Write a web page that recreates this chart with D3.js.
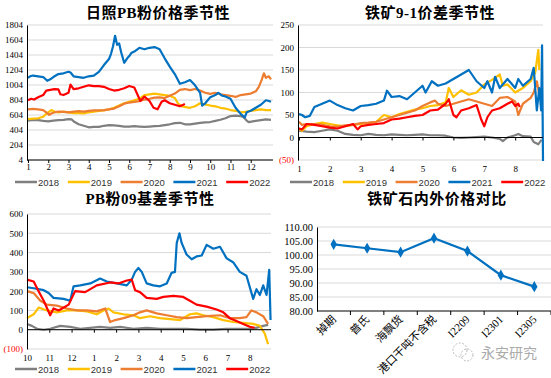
<!DOCTYPE html>
<html><head><meta charset="utf-8">
<script src="https://cdn.jsdelivr.net/npm/d3@7/dist/d3.min.js"></script>
<style>body{margin:0;background:#fff}svg{display:block}</style>
</head><body>
<script>
// ---------- DATA ----------
const years = ["2018","2019","2020","2021","2022"];
// Panel 1: 日照PB粉价格季节性 ([month, price])
const p1_2018 = [[1,530],[1.25,540],[1.5,535],[1.75,525],[2,520],[2.25,530],[2.5,535],[2.75,540],[3,550],[3.15,545],[3.3,510],[3.5,480],[3.75,460],[4,440],[4.25,445],[4.5,445],[4.75,460],[5,470],[5.25,465],[5.5,460],[5.75,450],[6,450],[6.25,455],[6.5,450],[6.75,445],[7,450],[7.25,455],[7.5,460],[7.75,470],[8,480],[8.25,495],[8.5,500],[8.75,480],[9,480],[9.25,490],[9.5,500],[9.75,505],[10,510],[10.25,525],[10.5,540],[10.75,560],[11,590],[11.25,595],[11.5,590],[11.65,575],[11.8,530],[11.9,510],[12.1,520],[12.5,535],[12.75,545],[13,540]];
const p1_2019 = [[1,550],[1.25,555],[1.5,560],[1.75,580],[1.9,620],[2,640],[2.15,670],[2.3,650],[2.5,640],[2.75,650],[3,640],[3.25,630],[3.5,630],[3.75,625],[4,640],[4.25,650],[4.5,660],[4.75,665],[5,680],[5.25,700],[5.5,730],[5.75,760],[6,780],[6.25,800],[6.5,820],[6.75,870],[7,880],[7.25,890],[7.5,880],[7.75,870],[8,860],[8.25,830],[8.4,760],[8.6,720],[8.8,710],[9,700],[9.25,720],[9.5,760],[9.75,745],[10,730],[10.25,720],[10.5,700],[10.75,690],[11,670],[11.25,660],[11.5,640],[11.75,645],[12,660],[12.25,670],[12.5,680],[12.75,670],[13,670]];
const p1_2020 = [[1,680],[1.25,685],[1.5,680],[1.75,670],[1.9,640],[2.05,605],[2.2,630],[2.5,650],[2.75,645],[3,640],[3.25,650],[3.5,655],[3.75,650],[4,660],[4.25,665],[4.5,665],[4.75,670],[5,680],[5.25,690],[5.5,720],[5.75,755],[6,770],[6.25,780],[6.5,790],[6.75,810],[7,820],[7.25,835],[7.5,840],[7.75,830],[8,860],[8.25,890],[8.5,940],[8.75,950],[9,935],[9.25,950],[9.5,930],[9.75,900],[10,885],[10.25,900],[10.5,880],[10.75,870],[11,860],[11.25,845],[11.5,870],[11.75,880],[12,890],[12.25,920],[12.4,980],[12.55,1080],[12.65,1160],[12.75,1100],[12.9,1120],[13,1080]];
const p1_2021 = [[1,1100],[1.1,1120],[1.25,1130],[1.5,1120],[1.75,1110],[1.95,1060],[2.1,1080],[2.25,1110],[2.5,1150],[2.75,1160],[3,1180],[3.1,1170],[3.25,1120],[3.5,1110],[3.75,1100],[4,1120],[4.25,1130],[4.5,1180],[4.75,1270],[5,1350],[5.1,1420],[5.2,1520],[5.3,1660],[5.4,1540],[5.5,1560],[5.6,1440],[5.75,1300],[5.9,1360],[6,1390],[6.1,1430],[6.25,1450],[6.5,1500],[6.75,1480],[7,1500],[7.25,1510],[7.5,1480],[7.75,1360],[8,1250],[8.25,1150],[8.5,1020],[8.75,1040],[9,1070],[9.25,1000],[9.5,900],[9.6,730],[9.75,760],[10,840],[10.25,870],[10.4,900],[10.6,860],[10.75,850],[11,820],[11.25,700],[11.5,620],[11.7,570],[11.8,640],[12,660],[12.25,700],[12.5,740],[12.75,800],[12.9,790],[13,780]];
const p1_2022 = [[1,800],[1.15,820],[1.3,810],[1.5,840],[1.75,870],[1.9,930],[2.1,940],[2.3,950],[2.5,945],[2.6,880],[2.75,870],[3,900],[3.1,1010],[3.25,950],[3.5,960],[3.75,980],[4,1000],[4.25,990],[4.5,990],[4.75,980],[5,950],[5.25,930],[5.5,940],[5.75,960],[6,990],[6.25,970],[6.4,880],[6.55,790],[6.75,850],[7,790],[7.2,700],[7.4,680],[7.6,780],[7.75,800],[8,760],[8.25,740],[8.5,720],[8.75,750]];
const p1YTicks = [4,204,404,604,804,1004,1204,1404,1604,1804];
const p1XLabels = ["1","2","3","4","5","6","7","8","9","10","11","12"];

// Panel 2: 铁矿9-1价差季节性 ([month, spread])
const p2_2018 = [[1,15],[1.25,13],[1.5,12],[1.75,15],[2,18],[2.25,15],[2.5,8],[2.75,6],[3,5],[3.25,8],[3.5,6],[3.75,5],[4,7],[4.25,6],[4.5,5],[4.75,6],[5,7],[5.25,5],[5.5,5],[5.75,4],[6,0],[6.25,-1],[6.5,0],[6.75,1],[7,2],[7.25,0],[7.5,-3],[7.6,-8],[7.75,0],[8,5],[8.1,8],[8.25,3],[8.5,2],[8.6,-10],[8.75,-15],[8.85,-5]];
const p2_2019 = [[1,20],[1.1,15],[1.25,25],[1.5,30],[1.75,33],[2,30],[2.25,27],[2.5,25],[2.75,28],[3,30],[3.25,32],[3.5,35],[3.75,50],[4,45],[4.25,52],[4.5,57],[4.75,62],[5,65],[5.25,70],[5.5,72],[5.75,78],[5.85,110],[6,90],[6.25,105],[6.5,95],[6.75,100],[7,118],[7.25,128],[7.5,140],[7.6,115],[7.75,118],[8,100],[8.25,110],[8.5,125],[8.65,145],[8.75,195],[8.78,150]];
const p2_2020 = [[1,35],[1.1,28],[1.25,30],[1.5,30],[1.75,28],[2,25],[2.25,24],[2.5,27],[2.75,28],[3,32],[3.25,33],[3.5,35],[3.75,40],[4,45],[4.25,50],[4.5,55],[4.75,60],[5,70],[5.25,78],[5.4,82],[5.5,75],[5.75,70],[6,75],[6.25,80],[6.5,85],[6.75,80],[7,75],[7.25,70],[7.5,88],[7.75,90],[8,80],[8.1,50],[8.25,75],[8.5,88],[8.6,100],[8.7,125],[8.8,90],[8.85,85]];
const p2_2021 = [[1,52],[1.1,50],[1.2,45],[1.35,48],[1.5,68],[1.75,75],[2,82],[2.25,72],[2.5,65],[2.75,60],[3,70],[3.25,72],[3.5,75],[3.75,82],[3.85,104],[4,90],[4.25,92],[4.5,85],[4.75,100],[5,115],[5.1,100],[5.3,125],[5.5,115],[5.75,120],[6,130],[6.25,140],[6.5,150],[6.75,125],[7,110],[7.1,125],[7.25,100],[7.35,135],[7.5,110],[7.75,130],[8,110],[8.1,130],[8.25,115],[8.5,130],[8.6,155],[8.7,60],[8.78,110],[8.84,60],[8.87,205],[8.9,-52]];
const p2_2022 = [[1,20],[1.1,18],[1.25,30],[1.5,28],[1.75,25],[2,22],[2.25,20],[2.5,25],[2.75,30],[2.9,18],[3,25],[3.25,28],[3.5,30],[3.75,32],[4,40],[4.25,42],[4.5,45],[4.75,48],[5,50],[5.25,60],[5.5,62],[5.75,75],[5.85,85],[6,50],[6.1,45],[6.25,60],[6.5,65],[6.75,72],[6.9,40],[7,25],[7.1,45],[7.25,60],[7.5,65],[7.75,75],[7.9,80],[8,70],[8.1,75],[8.15,68]];
const p2YTicks = [-50,0,50,100,150,200,250];
const p2XLabels = ["1","2","3","4","5","6","7","8"];

// Panel 3: PB粉09基差季节性 ([month index from Oct, basis])
const p3_2018 = [[0,30],[0.22,20],[0.45,5],[0.75,0],[1.04,5],[1.49,20],[1.94,15],[2.39,5],[2.84,10],[3.28,15],[3.73,10],[4.18,15],[4.78,5],[5.37,10],[5.97,5],[6.57,5],[7.16,5],[7.76,0],[8.36,0],[8.96,5],[9.55,5],[10.15,5],[10.6,20],[10.82,25]];
const p3_2019 = [[0,60],[0.3,80],[0.52,115],[0.9,100],[1.34,90],[1.79,100],[2.24,100],[2.69,95],[3.13,80],[3.43,100],[3.66,110],[3.88,90],[4.33,80],[4.78,75],[5.07,60],[5.52,70],[5.97,60],[6.42,55],[6.87,50],[7.31,80],[7.61,85],[7.91,75],[8.36,65],[8.81,50],[9.25,40],[9.7,35],[10.15,30],[10.45,20],[10.67,-20],[10.82,-75]];
const p3_2020 = [[0,200],[0.3,190],[0.6,150],[0.9,130],[1.34,125],[1.79,110],[2.24,100],[2.69,100],[3.13,95],[3.51,110],[3.73,40],[3.96,50],[4.33,60],[4.78,75],[5.07,90],[5.37,100],[5.82,85],[6.27,75],[6.72,65],[7.16,60],[7.61,65],[8.06,70],[8.66,75],[9.1,60],[9.55,60],[9.85,65],[10.07,100],[10.3,90],[10.6,70],[10.82,30]];
const p3_2021 = [[0,220],[0.3,215],[0.75,205],[0.97,190],[1.19,165],[1.64,160],[1.94,150],[2.09,225],[2.39,230],[2.84,240],[3.28,265],[3.58,250],[4.03,240],[4.48,230],[4.7,260],[4.85,300],[5.0,320],[5.15,300],[5.37,240],[5.67,230],[5.97,225],[6.27,240],[6.49,295],[6.64,300],[6.72,450],[6.84,500],[6.94,450],[7.16,390],[7.39,365],[7.61,380],[7.84,385],[8.06,440],[8.36,420],[8.66,430],[8.81,400],[8.96,370],[9.25,350],[9.55,300],[9.85,280],[10.15,160],[10.3,210],[10.45,180],[10.6,230],[10.75,180],[10.87,310],[10.93,50]];
const p3_2022 = [[0,260],[0.3,250],[0.52,200],[0.75,150],[1.04,75],[1.19,110],[1.42,100],[1.87,130],[2.16,200],[2.61,195],[3.13,230],[3.73,245],[4.1,240],[4.48,255],[4.7,260],[4.85,205],[5.07,195],[5.37,165],[5.82,160],[6.12,170],[6.57,175],[7.01,170],[7.31,150],[7.61,130],[8.06,120],[8.51,105],[8.81,90],[9.1,60],[9.4,45],[9.7,30],[10.0,15],[10.22,10]];
const p3YTicks = [-100,0,100,200,300,400,500,600];
const p3XLabels = ["10","11","12","1","2","3","4","5","6","7","8"];

// Panel 4: 铁矿石内外价格对比
const p4Categories = ["掉期","普氏","海飘货","港口干吨不含税","I2209","I2301","I2305"];
const p4Values = [103.8,102.4,101.0,106.0,101.4,92.8,88.7];
const p4YTicks = [80,85,90,95,100,105,110];

// ---------- STYLE ----------
const colors = {"2018":"#7f7f7f","2019":"#ffc000","2020":"#ed7d31","2021":"#0070c0","2022":"#ff0000"};
const serif = "'Liberation Serif','Times New Roman',serif";
const sans = "'Liberation Sans',Arial,sans-serif";
const titleFont = "'Liberation Serif','Noto Sans CJK SC',serif";
const cjk = "'Liberation Serif','Noto Sans CJK SC',sans-serif";

const svg = d3.select("body").append("svg").attr("width",551).attr("height",378);
svg.append("rect").attr("width",551).attr("height",378).attr("fill","#fff");

function title(txt, cx, y){
  svg.append("text").attr("x",cx).attr("y",y).attr("text-anchor","middle")
    .attr("font-family",titleFont).attr("font-size",15).attr("font-weight",600)
    .attr("letter-spacing",0.5).attr("fill","#000").text(txt);
}

function seasonal(o){
  const g = svg.append("g");
  const x = d3.scaleLinear().domain(o.xDomain).range(o.xRange);
  const y = d3.scaleLinear().domain(o.yDomain).range(o.yRange);
  g.selectAll("line.grid").data(o.yTicks).join("line").attr("class","grid")
    .attr("x1",o.xRange[0]).attr("x2",o.xRange[1]).attr("y1",d=>y(d)).attr("y2",d=>y(d))
    .attr("stroke","#d9d9d9").attr("stroke-width",1);
  // lines
  const line = d3.line().x(d=>x(d[0])).y(d=>y(d[1]));
  o.series.forEach((s,i)=>{
    g.append("path").datum(s).attr("d",line).attr("fill","none")
      .attr("stroke",colors[years[i]]).attr("stroke-width",2.2).attr("stroke-linejoin","round");
  });
  // x axis
  const xa = d3.axisBottom(x).tickValues(o.xTickVals).tickSize(3).tickSizeOuter(0)
    .tickFormat((d,i)=>o.xLabels[i]);
  const xg = g.append("g").attr("transform",`translate(0,${y(o.xAxisAt)})`).call(xa);
  xg.select(".domain").attr("stroke","#000").attr("d",`M${o.xRange[0]},0H${o.xRange[1]}`);
  xg.selectAll(".tick line").attr("stroke","#000");
  xg.selectAll(".tick text").attr("y",o.labelY - y(o.xAxisAt)).attr("dy",0)
    .attr("font-family",serif).attr("font-size",9).attr("fill","#000");
  // y axis
  const ya = d3.axisLeft(y).tickValues(o.yTicks).tickSize(0).tickSizeOuter(0).tickPadding(4)
    .tickFormat(d=> d<0 ? `(${-d})` : d);
  const yg = g.append("g").attr("transform",`translate(${o.xRange[0]},0)`).call(ya);
  yg.select(".domain").attr("stroke","#000");
  yg.selectAll(".tick text").attr("font-family",serif).attr("font-size",9)
    .attr("fill",d=>d<0?"#ff0000":"#000");
  // legend
  years.forEach((yr,i)=>{
    const lx = o.legendX + i*52.8;
    g.append("line").attr("x1",lx).attr("x2",lx+22).attr("y1",o.legendY).attr("y2",o.legendY)
      .attr("stroke",colors[yr]).attr("stroke-width",2.5);
    g.append("text").attr("x",lx+23).attr("y",o.legendY+3.5).attr("font-family",sans)
      .attr("font-size",9.5).attr("fill","#333").text(yr);
  });
}

// Panel 1
title("日照PB粉价格季节性", 158, 18);
seasonal({xDomain:[0.95,13.1], xRange:[27,273], yDomain:[4,1804], yRange:[160,25],
  yTicks:p1YTicks, xTickVals:d3.range(1,13), xLabels:p1XLabels, xAxisAt:4, labelY:170,
  series:[p1_2018,p1_2019,p1_2020,p1_2021,p1_2022], legendX:15, legendY:182});

// Panel 2
title("铁矿9-1价差季节性", 430, 18);
seasonal({xDomain:[0.97,8.9], xRange:[298,543], yDomain:[-50,250], yRange:[160,25],
  yTicks:p2YTicks, xTickVals:d3.range(1,9), xLabels:p2XLabels, xAxisAt:0, labelY:172,
  series:[p2_2018,p2_2019,p2_2020,p2_2021,p2_2022], legendX:290, legendY:182});

// Panel 3
title("PB粉09基差季节性", 150, 204);
seasonal({xDomain:[0,10.95], xRange:[27,271], yDomain:[-100,600], yRange:[349,214],
  yTicks:p3YTicks, xTickVals:d3.range(0,11), xLabels:p3XLabels, xAxisAt:0, labelY:361,
  series:[p3_2018,p3_2019,p3_2020,p3_2021,p3_2022], legendX:15, legendY:369});

// Panel 4
title("铁矿石内外价格对比", 437, 204);
(function(){
  const g = svg.append("g");
  const x = d3.scaleBand().domain(p4Categories).range([317,551]);
  const y = d3.scaleLinear().domain([80,110]).range([311,227]);
  g.selectAll("line.grid").data(p4YTicks.slice(1)).join("line")
    .attr("x1",317).attr("x2",551).attr("y1",d=>y(d)).attr("y2",d=>y(d))
    .attr("stroke","#d9d9d9");
  const yg = g.append("g").attr("transform","translate(317,0)")
    .call(d3.axisLeft(y).tickValues(p4YTicks).tickSize(0).tickSizeOuter(0).tickPadding(4).tickFormat(d3.format(".2f")));
  yg.select(".domain").attr("stroke","#000");
  yg.selectAll(".tick text").attr("font-family",serif).attr("font-size",10.5).attr("fill","#000");
  // bottom axis
  g.append("line").attr("x1",317).attr("x2",551).attr("y1",y(80)).attr("y2",y(80)).attr("stroke","#000");
  const bounds = p4Categories.map(c=>x(c)).concat([x(p4Categories[6])+x.bandwidth()]);
  g.selectAll("line.bt").data(bounds.slice(1)).join("line")
    .attr("x1",d=>d).attr("x2",d=>d).attr("y1",y(80)).attr("y2",y(80)+4).attr("stroke","#000");
  const cx = c=>x(c)+x.bandwidth()/2;
  g.selectAll("text.cat").data(p4Categories).join("text")
    .attr("transform",c=>`translate(${cx(c)+3},${y(80)+9}) rotate(-45)`)
    .attr("text-anchor","end").attr("font-family",cjk).attr("font-size",11).attr("fill","#000")
    .text(c=>c);
  const data = p4Categories.map((c,i)=>[c,p4Values[i]]);
  g.append("path").datum(data).attr("d",d3.line().x(d=>cx(d[0])).y(d=>y(d[1])))
    .attr("fill","none").attr("stroke","#0070c0").attr("stroke-width",2.2);
  g.selectAll("path.pt").data(data).join("path")
    .attr("transform",d=>`translate(${cx(d[0])},${y(d[1])})`)
    .attr("d",d3.symbol(d3.symbolDiamond,36)).attr("fill","#0070c0");
  // watermark
  g.append("circle").attr("cx",460).attr("cy",350).attr("r",7).attr("fill","none")
    .attr("stroke","#bbb").attr("stroke-dasharray","2,1.5");
  g.append("circle").attr("cx",467).attr("cy",355).attr("r",6).attr("fill","none")
    .attr("stroke","#bbb").attr("stroke-dasharray","2,1.5");
  g.append("text").attr("x",481).attr("y",358).attr("font-family","'Noto Sans CJK SC',sans-serif")
    .attr("font-size",14).attr("fill","#aaa").text("永安研究");
})();
</script>
</body></html>
